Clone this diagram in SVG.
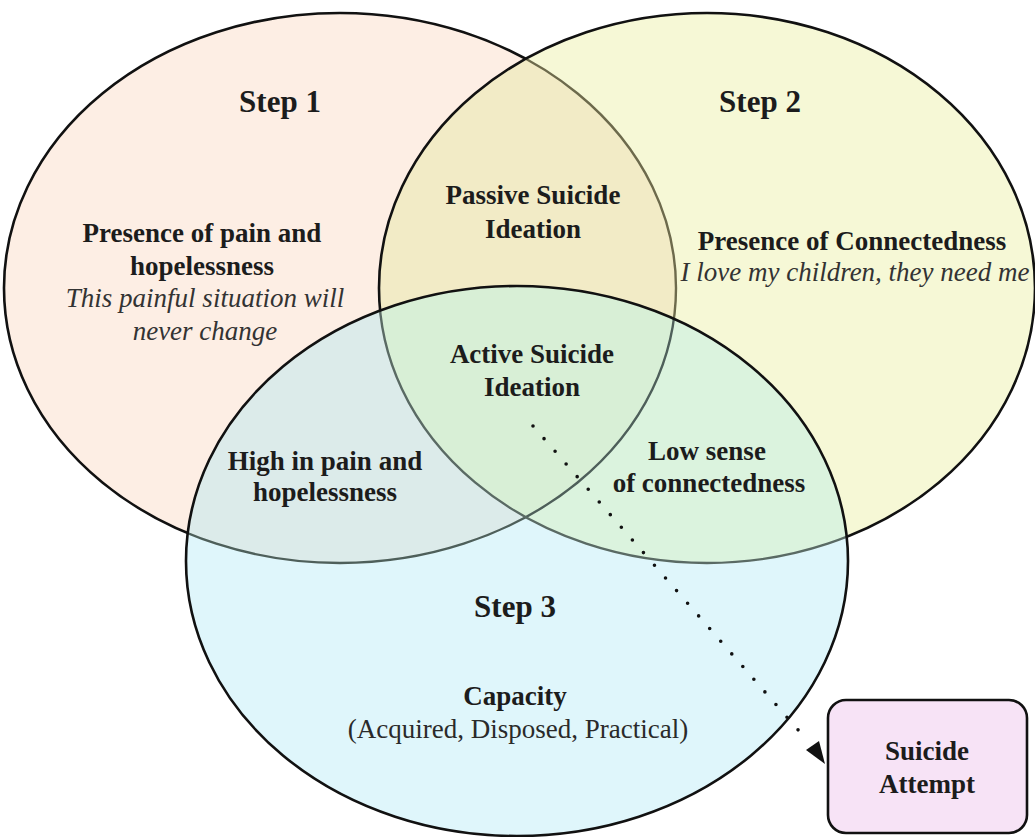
<svg xmlns="http://www.w3.org/2000/svg" xmlns:xlink="http://www.w3.org/1999/xlink" width="1035" height="837" viewBox="0 0 1035 837">
<style>
text{font-family:"Liberation Serif","Times New Roman",serif;text-anchor:middle}
.t{font-weight:bold;font-size:27px;fill:#1c1c1c}
.h{font-weight:bold;font-size:31px;fill:#1c1c1c}
.i{font-style:italic;font-size:27px;fill:#333}
.r{font-size:27px;fill:#2a2a2a}
.ol{fill:none;stroke:#111;stroke-width:2.6}
</style>
<defs>
<ellipse id="E1" cx="340" cy="288" rx="336" ry="275"/>
<ellipse id="E2" cx="707" cy="288" rx="328" ry="275"/>
<ellipse id="E3" cx="517" cy="561" rx="331" ry="275"/>
<clipPath id="c1"><use xlink:href="#E1"/></clipPath>
<clipPath id="c2"><use xlink:href="#E2"/></clipPath>
<clipPath id="c3"><use xlink:href="#E3"/></clipPath>
</defs>
<rect width="1035" height="837" fill="#fff"/>

<g id="step1">
<use xlink:href="#E1" fill="#fdeee4"/>
<use xlink:href="#E1" class="ol"/>
<text class="h" x="280" y="112">Step 1</text>
<text class="t" x="202" y="242">Presence of pain and</text>
<text class="t" x="202" y="275">hopelessness</text>
<text class="i" x="205" y="307">This painful situation will</text>
<text class="i" x="205" y="340">never change</text>
</g>

<g id="step2">
<use xlink:href="#E2" fill="#f6f8d6"/>
<use xlink:href="#E2" fill="#f2ebc6" clip-path="url(#c1)"/>
<use xlink:href="#E1" fill="none" stroke="#6d6a4c" stroke-width="2.4" clip-path="url(#c2)"/>
<use xlink:href="#E2" class="ol"/>
<text class="h" x="760" y="112">Step 2</text>
<text class="t" x="852" y="250">Presence of Connectedness</text>
<text class="i" x="855" y="281">I love my children, they need me</text>
</g>

<g id="step3">
<use xlink:href="#E3" fill="#dff6fb"/>
<use xlink:href="#E3" fill="#dcebea" clip-path="url(#c1)"/>
<use xlink:href="#E3" fill="#dbf3de" clip-path="url(#c2)"/>
<g clip-path="url(#c1)"><use xlink:href="#E3" fill="#d8efd6" clip-path="url(#c2)"/></g>
<use xlink:href="#E1" fill="none" stroke="#4e5f5a" stroke-width="2.4" clip-path="url(#c3)"/>
<use xlink:href="#E2" fill="none" stroke="#5a6a64" stroke-width="2.4" clip-path="url(#c3)"/>
<use xlink:href="#E3" class="ol"/>
<text class="h" x="515" y="617">Step 3</text>
<text class="t" x="515" y="705">Capacity</text>
<text class="r" x="518" y="738">(Acquired, Disposed, Practical)</text>
</g>

<g id="passive">
<text class="t" x="533" y="204">Passive Suicide</text>
<text class="t" x="533" y="238">Ideation</text>
</g>
<g id="active">
<text class="t" x="532" y="363">Active Suicide</text>
<text class="t" x="532" y="396">Ideation</text>
</g>
<g id="highpain">
<text class="t" x="325" y="470">High in pain and</text>
<text class="t" x="325" y="501">hopelessness</text>
</g>
<g id="lowconn">
<text class="t" x="707" y="460">Low sense</text>
<text class="t" x="709" y="492">of connectedness</text>
</g>

<g id="connectors">
<line x1="533" y1="426" x2="806" y2="739" stroke="#111" stroke-width="3.6" stroke-linecap="round" stroke-dasharray="0 16.8"/>
<path d="M806,750 L819,741 L825,764 Z" fill="#111"/>
</g>

<g id="attempt">
<rect x="828" y="700" width="199" height="133" rx="18" ry="18" fill="#f7e3f6" stroke="#111" stroke-width="2.6"/>
<text class="t" x="927" y="760">Suicide</text>
<text class="t" x="927" y="793">Attempt</text>
</g>
</svg>
